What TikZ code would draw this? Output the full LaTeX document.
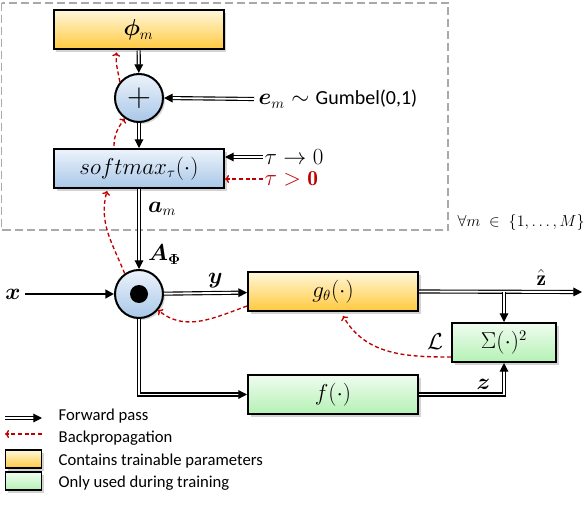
\documentclass[tikz,border=0pt]{standalone}
\usepackage{amsmath,amsfonts,amssymb}
\usepackage{bm}
\usepackage{fontspec}
\setsansfont{Carlito}
\usetikzlibrary{arrows.meta,shadows,calc}
\usepackage{xcolor}

\definecolor{ylwtop}{HTML}{FFF7DA}
\definecolor{ylwbot}{HTML}{FFC93E}
\definecolor{blutop}{HTML}{EDF3FB}
\definecolor{blubot}{HTML}{A8C7E8}
\definecolor{grntop}{HTML}{F0FCF0}
\definecolor{grnbot}{HTML}{B4F1B4}
\definecolor{bpred}{HTML}{C00000}
\definecolor{framegray}{HTML}{A9A9A9}

\tikzset{
  box/.style={draw=black, line width=1.5pt, minimum width=127.5pt, minimum height=29.25pt,
    drop shadow={shadow xshift=2pt, shadow yshift=-2pt, opacity=0.35}},
  ybox/.style={box, top color=ylwtop, bottom color=ylwbot},
  bbox/.style={box, top color=blutop, bottom color=blubot},
  gbox/.style={box, top color=grntop, bottom color=grnbot},
  opnode/.style={circle, draw=black, line width=1.5pt, minimum size=36pt, inner sep=0pt,
    top color=blutop, bottom color=blubot,
    drop shadow={shadow xshift=1.5pt, shadow yshift=-1.5pt, opacity=0.3}},
  fwd/.style={double, double distance=1.4pt, line width=0.85pt, -{Triangle[length=6.5pt,width=6.5pt]}},
  bp/.style={draw=bpred, dashed, dash pattern=on 3pt off 2pt, line width=1pt, -{To[length=3pt,width=6pt]}},
  lbl/.style={font=\fontsize{16}{18}\selectfont},
}

\begin{document}
\begin{tikzpicture}[x=0.75pt, y=0.75pt, lbl]
  \useasboundingbox (0,0) rectangle (584,-520);

  % Gumbel-softmax block
  \draw[framegray, line width=1pt, dash pattern=on 6pt off 3pt] (1.5,-3) rectangle (448,-230);

  \node[ybox] (phi) at (138.5,-30) {$\bm{\phi}_m$};
  \node[opnode] (plus) at (139,-98) {\fontsize{24}{24}\selectfont$+$};
  \node[bbox] (soft) at (139,-168.5) {$softmax_{\tau}(\cdot)$};
  \node[anchor=west] (noise) at (254,-99) {$\bm{e}_m\sim$ \textsf{\fontsize{15}{17}\selectfont Gumbel(0,1)}};
  \node[anchor=west, inner sep=1pt] (tzero) at (263,-157) {$\tau\to 0$};
  \node[anchor=west, inner sep=1pt, text=bpred] (tpos) at (263,-179) {$\tau>\mathbf{0}$};
  \node[anchor=west, font=\fontsize{11.5}{13}\selectfont] (forall) at (453,-222) {$\forall m\;\in\;\{1,\dots,M\}$};

  \draw[fwd] (phi) -- (plus);
  \draw[fwd] (noise.west) -- (plus.east);
  \draw[fwd] (plus) -- (soft);
  \draw[fwd] (tzero.west) -- (tzero.west -| soft.east);
  \draw[bp] (tpos.west) -- (tpos.west -| soft.east);

  % main path
  \node[opnode] (mul) at (139,-294) {};
  \fill (mul) circle (6.75pt);
  \node[ybox] (g) at (333,-291.5) {$g_{\theta}(\cdot)$};
  \node[gbox, minimum width=78pt] (sq) at (504,-342.5) {$\Sigma(\cdot)^2$};
  \node[gbox] (f) at (333,-394.5) {$f(\cdot)$};
  \node (x) at (13,-294) {$\bm{x}$};
  \coordinate (out) at (582,-292);
  \coordinate (split) at (sq.north |- g.east);

  \draw[fwd] (soft) -- node[pos=0.25, right, xshift=3pt] {$\bm{a}_m$}
                       node[pos=0.82, right, xshift=3pt] {$\bm{A}_{\bm{\Phi}}$} (mul);
  \draw[line width=2.2pt, -{Triangle[length=6.5pt,width=6.5pt]}] (x) -- (mul);
  \draw[fwd] (mul) -- node[above, pos=0.62] {$\bm{y}$} (g);
  \draw[fwd] (mul.south) |- (f.west);
  \draw[fwd] (g.east) -- node[above, pos=0.75, yshift=1pt] {$\hat{\mathbf{z}}$} (out);
  \draw[fwd] (split) -- (sq.north);
  \draw[fwd] (f.east) -| node[above, pos=0.38] {$\bm{z}$} (sq.south);

  % backpropagation
  \draw[bp] (mul.125) to[out=112, in=-105] ($(soft.south)+(-32,-2)$);
  \draw[bp] ($(soft.north)+(-25,2)$) to[out=90, in=-125] (plus.235);
  \draw[bp] (plus.140) to[out=100, in=-95] ($(phi.south)+(-22,-2)$);
  \draw[bp] ($(g.south west)+(0,6)$) to[out=200, in=-40] (mul.-40);
  \draw[bp] ($(sq.south west)+(0,6)$) to[out=180, in=-60]
      node[pos=0.12, above, text=black, yshift=2pt] {$\mathcal{L}$} ($(g.south)+(10,-4)$);

  % legend
  \coordinate (la1) at (5,-418);
  \coordinate (la2) at (42,-418);
  \coordinate (lb1) at (5,-434);
  \coordinate (lb2) at (42,-434);
  \node[box, top color=ylwtop, bottom color=ylwbot, minimum width=27pt, minimum height=13.5pt,
        line width=1.2pt] (ly) at (23.5,-459) {};
  \node[box, top color=grntop, bottom color=grnbot, minimum width=27pt, minimum height=13.5pt,
        line width=1.2pt] (lg) at (23.5,-481) {};
  \draw[fwd] (la1) -- (la2);
  \draw[bp] (lb2) -- (lb1);
  \begin{scope}[font=\sffamily\fontsize{12.5}{14}\selectfont]
    \node[anchor=west] at (54,-416) {Forward pass};
    \node[anchor=west] at (54,-438) {Backpropagation};
    \node[anchor=west] at (54,-461) {Contains trainable parameters};
    \node[anchor=west] at (54,-483) {Only used during training};
  \end{scope}
\end{tikzpicture}
\end{document}
